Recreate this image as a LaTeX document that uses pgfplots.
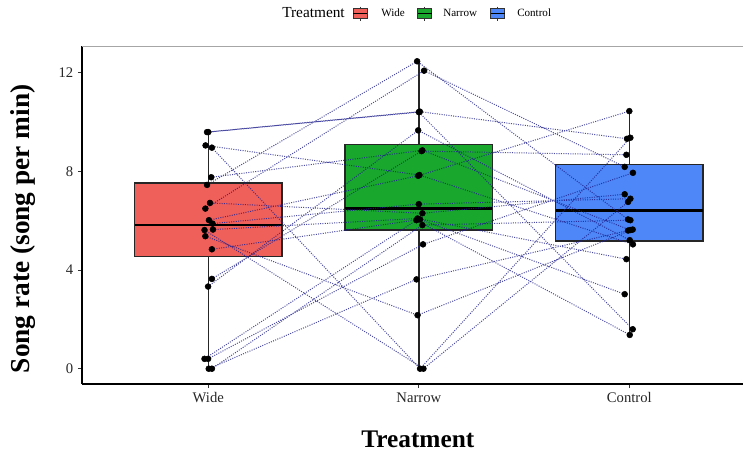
\documentclass[border=0pt]{standalone}
\usepackage{pgfplots}
\pgfplotsset{compat=1.18}
\usepgfplotslibrary{statistics}
\usepackage{pgfplotstable}
\usepackage{fontspec}
\setmainfont{Liberation Serif}
\definecolor{wideC}{RGB}{240,96,91}
\definecolor{narrowC}{RGB}{25,168,45}
\definecolor{controlC}{RGB}{77,135,248}
\definecolor{pathC}{RGB}{30,30,140}

% each individual: Wide, Narrow, Control (x jittered slightly), separated by nan rows
\pgfplotstableread{
x y
0.994 9.59
2.005 10.42
2.989 9.32
nan nan
1.000 9.59
2.000 10.40
3.016 1.60
nan nan
0.987 9.05
2.003 7.85
3.017 5.04
nan nan
1.017 8.96
2.006 0
3.005 9.36
nan nan
1.014 7.76
2.017 8.85
3.005 5.62
nan nan
0.994 7.45
1.992 12.46
2.994 6.05
nan nan
1.008 6.72
2.017 6.30
2.978 7.07
nan nan
0.986 6.49
2.025 12.08
2.978 8.18
nan nan
1.003 6.02
1.997 7.82
3.000 10.44
nan nan
1.020 5.88
2.000 6.67
3.005 6.89
nan nan
1.022 5.64
1.994 6.09
2.986 4.44
nan nan
0.982 5.62
2.022 0
2.994 6.76
nan nan
0.986 5.37
1.994 2.17
3.016 5.64
nan nan
1.017 4.84
2.006 6.05
2.978 3.02
nan nan
1.017 3.64
2.013 8.82
2.986 8.67
nan nan
0.999 3.33
1.997 9.66
3.002 5.21
nan nan
0.982 0.40
1.989 6.02
3.002 1.37
nan nan
0.999 0.40
2.020 5.04
3.017 7.94
nan nan
1.002 0
1.989 3.62
2.994 5.60
nan nan
1.017 0
2.017 5.82
3.005 6.02
}\paths

\begin{document}
\begin{tikzpicture}[x=0.75pt,y=0.75pt]
\useasboundingbox (0,0) rectangle (743,454);
\begin{axis}[
  at={(61.5pt,52.5pt)}, anchor=south west,
  scale only axis, width=495.75pt, height=253.5pt,
  xmin=0.4, xmax=3.54, ymin=-0.62, ymax=13.08,
  clip=false,
  axis x line*=bottom, axis y line*=left,
  axis line style={-, line width=0.8pt, black},
  xtick={1,2,3}, xticklabels={Wide,Narrow,Control},
  ytick={0,4,8,12},
  tick align=outside, major tick length=3pt,
  tick style={black!80, line width=0.6pt},
  ticklabel style={font=\fontsize{11}{13}\selectfont, black!85},
  /pgf/number format/assume math mode=true,
  xlabel={Treatment}, ylabel={Song rate (song per min)},
  xlabel style={font=\fontsize{19}{22}\selectfont\bfseries, at={(axis description cs:0.508,-0.163)}, anchor=center},
  ylabel style={font=\fontsize{20.5}{23}\selectfont\bfseries, at={(axis description cs:-0.0893,0.459)}, anchor=center},
  boxplot/draw direction=y,
  boxplot/every median/.style={line width=2pt, black},
  boxplot/every whisker/.style={line width=1.1pt, black!85},
  boxplot/every box/.style={line width=1pt, draw=black!85},
]
\addplot[boxplot prepared={draw position=1, lower whisker=0, lower quartile=4.54, median=5.82, upper quartile=7.53, upper whisker=9.59, box extend=0.7, whisker extend=0}, fill=wideC, draw=black!85] coordinates {};
\addplot[boxplot prepared={draw position=2, lower whisker=0, lower quartile=5.62, median=6.48, upper quartile=9.09, upper whisker=12.46, box extend=0.7, whisker extend=0}, fill=narrowC, draw=black!85] coordinates {};
\addplot[boxplot prepared={draw position=3, lower whisker=1.37, lower quartile=5.17, median=6.40, upper quartile=8.28, upper whisker=10.44, box extend=0.7, whisker extend=0}, fill=controlC, draw=black!85] coordinates {};
\addplot[pathC, densely dotted, line width=0.75pt, opacity=0.8, unbounded coords=jump, mark=none] table {\paths};
\addplot[only marks, mark=*, mark size=2.2pt, black] table {\paths};
\draw[gray!70, line width=0.7pt] (rel axis cs:0,1) -- (rel axis cs:1,1);
\end{axis}
% legend
\node[anchor=west, inner sep=0pt, font=\fontsize{11.5}{13}\selectfont] at (282,441) {Treatment};
\foreach \cx/\col in {360/wideC, 424.5/narrowC, 497.5/controlC} {
  \draw[black!80, line width=0.6pt] (\cx,447.3) -- (\cx,433.3);
  \draw[black!80, line width=0.6pt, fill=\col] (\cx-7,435.7) rectangle (\cx+7,445.7);
  \draw[black, line width=1pt] (\cx-7,440.7) -- (\cx+7,440.7);
}
\node[anchor=west, inner sep=0pt, font=\fontsize{8.3}{10}\selectfont] at (381,441) {Wide};
\node[anchor=west, inner sep=0pt, font=\fontsize{8.3}{10}\selectfont] at (443,441) {Narrow};
\node[anchor=west, inner sep=0pt, font=\fontsize{8.3}{10}\selectfont] at (517,441) {Control};
\end{tikzpicture}
\end{document}
